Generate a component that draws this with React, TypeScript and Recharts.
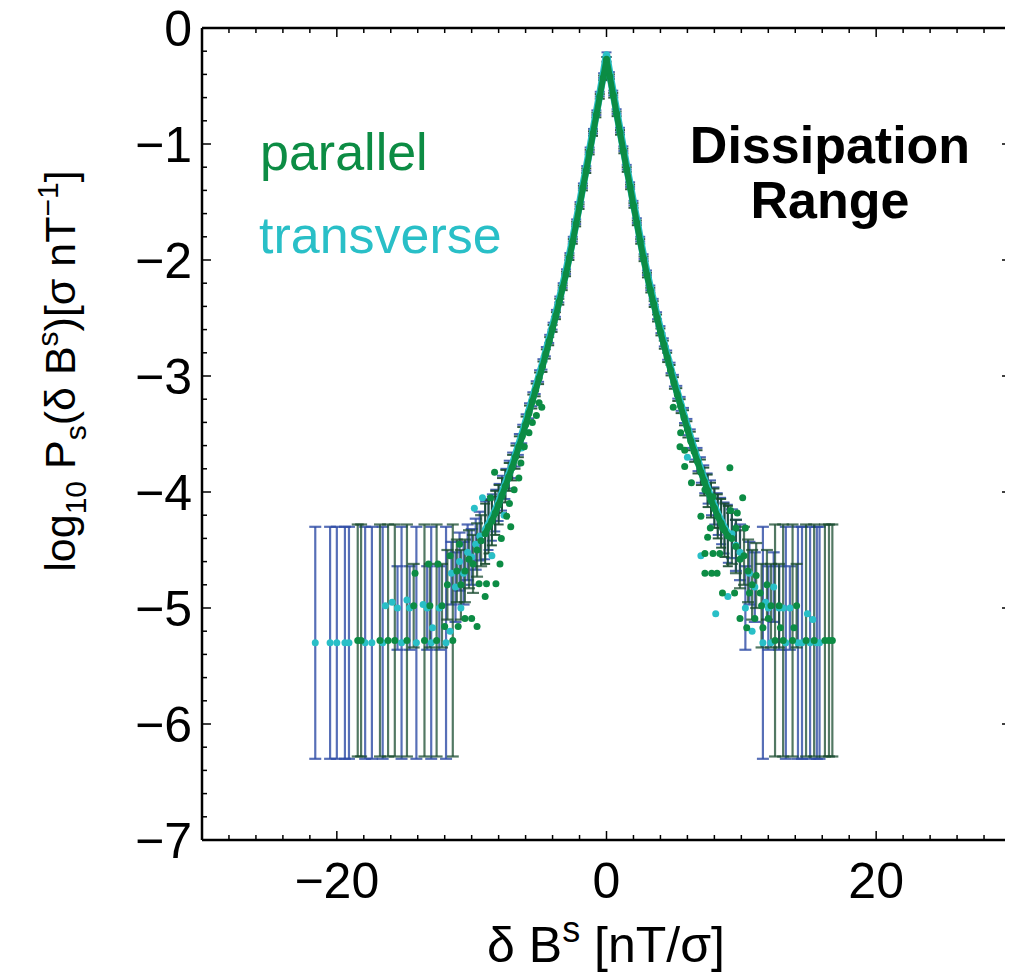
import React from "react";
import { ComposedChart, Scatter, ErrorBar, XAxis, YAxis } from "recharts";

const FONT = "'Liberation Sans', Arial, Helvetica, sans-serif";
const GREEN = "#0c8c44";
const CYAN = "#29bfc7";
const DARK_GREEN = "#184b2f";
const BLUE = "#2d4ba5";

// shared bin centres for the core of both PDFs
const coreX = [
  -9, -8.75, -8.5, -8.25, -8, -7.75, -7.5, -7.25, -7, -6.75, -6.5, -6.25, -6, -5.75, -5.5, -5.25,
  -5, -4.75, -4.5, -4.25, -4, -3.75, -3.5, -3.25, -3, -2.75, -2.5, -2.25, -2, -1.75, -1.5, -1.25,
  -1, -0.75, -0.5, -0.25, 0, 0.25, 0.5, 0.75, 1, 1.25, 1.5, 1.75, 2, 2.25, 2.5, 2.75, 3, 3.25,
  3.5, 3.75, 4, 4.25, 4.5, 4.75, 5, 5.25, 5.5, 5.75, 6, 6.25, 6.5, 6.75, 7, 7.25, 7.5, 7.75, 8,
  8.25, 8.5, 8.75, 9,
];

// parallel component
const parCoreY = [
  -4.36, -4.3, -4.25, -4.18, -4.11, -4.03, -3.95, -3.87, -3.79, -3.7, -3.61, -3.52, -3.42, -3.32,
  -3.22, -3.12, -3.02, -2.92, -2.81, -2.7, -2.59, -2.48, -2.36, -2.24, -2.12, -1.98, -1.84, -1.69,
  -1.54, -1.38, -1.23, -1.07, -0.91, -0.75, -0.59, -0.43, -0.27, -0.42, -0.58, -0.74, -0.9, -1.06,
  -1.22, -1.37, -1.53, -1.68, -1.84, -1.99, -2.13, -2.26, -2.38, -2.5, -2.62, -2.73, -2.84, -2.95,
  -3.06, -3.16, -3.26, -3.36, -3.46, -3.56, -3.65, -3.74, -3.83, -3.91, -3.99, -4.07, -4.14, -4.21,
  -4.27, -4.33, -4.38,
];
const parCoreErr = [
  0.26, 0.23, 0.21, 0.19, 0.17, 0.15, 0.14, 0.12, 0.11, 0.1, 0.09, 0.08, 0.07, 0.065, 0.06, 0.055,
  0.05, 0.045, 0.04, 0.035, 0.03, 0.03, 0.025, 0.02, 0.02, 0.02, 0.02, 0.02, 0.02, 0.02, 0.02, 0.02,
  0.02, 0.02, 0.02, 0.02, 0.02, 0.02, 0.02, 0.02, 0.02, 0.02, 0.02, 0.02, 0.02, 0.02, 0.02, 0.02,
  0.02, 0.02, 0.025, 0.03, 0.03, 0.035, 0.04, 0.045, 0.05, 0.055, 0.06, 0.065, 0.07, 0.08, 0.09,
  0.1, 0.11, 0.12, 0.14, 0.15, 0.17, 0.19, 0.21, 0.23, 0.26,
];
const parTailX = [
  -18.45, -18.2, -16.8, -16.2, -15.7, -14.8, -14.3, -13.5, -13.1, -12.6, -12.2, -11.8, -11.4, -11.1,
  -10.8, -10.5, -10.2, -9.9, -9.6, -9.3, 9.3, 9.6, 9.9, 10.2, 10.5, 10.8, 11.1, 11.5, 11.9, 12.2,
  12.5, 12.8, 13.1, 13.8, 14.1, 14.8, 15.4, 16.2, 16.5, 16.75,
];
const parTailY = [
  -5.28, -5.28, -5.28, -5.28, -5.28, -5.28, -4.98, -5.28, -4.98, -5.28, -4.98, -4.8, -5.28, -4.68,
  -4.8, -4.68, -4.58, -4.62, -4.5, -4.42, -4.4, -4.47, -4.58, -4.55, -4.68, -4.8, -4.72, -4.98, -4.8,
  -4.98, -5.28, -4.98, -5.28, -5.28, -4.98, -5.28, -5.28, -5.28, -5.28, -5.28,
];
const parTailErr = [
  1, 1, 1, 1, 1, 1, 0.36, 1, 0.36, 1, 0.36, 0.3, 1, 0.27, 0.3, 0.27, 0.25, 0.25, 0.23, 0.22, 0.22,
  0.23, 0.25, 0.25, 0.27, 0.3, 0.28, 0.36, 0.3, 0.36, 1, 0.36, 1, 1, 0.36, 1, 1, 1, 1, 1,
];
const parSpreadX = [
  -4.8, -5, -5.2, -5.5, -5.75, -6.1, -6.35, -6.5, -6.85, -7.2, -7.4, -7.1, -7.8, -8.3, -8.6, -7.9,
  -8.2, -8.9, -9.45, -9, -10, -10.5, -9.6, -11, -12, -12.5, -13.2, -14.2, -11.6, -10.9, 4.95, 5.5,
  5.45, 5.8, 5.8, 6.3, 7.3, 7.9, 9.15, 10.1, 7, 7.5, 9.2, 9.7, 7.7, 8.6, 9.6, 10.3, 7.3, 7.9, 8.4,
  7.3, 7.8, 8.2, 8.6, 9.5, 10.6, 11.4, 9.9, 11, 12, 10.4, 11.6, 12.9, 13.9,
];
const parSpreadY = [
  -3.27, -3.23, -3.34, -3.4, -3.49, -3.61, -3.75, -3.88, -3.98, -4.1, -4.21, -4.3, -4.4, -3.83, -4.05,
  -4.62, -4.79, -4.79, -4.79, -4.9, -5.09, -5.09, -5.16, -5.16, -5.16, -4.62, -4.62, -4.7, -4.55,
  -4.45, -3.27, -3.49, -3.61, -3.64, -3.78, -3.92, -3.98, -4.04, -3.79, -4.05, -4.21, -4.39, -4.16,
  -4.18, -4.31, -4.31, -4.31, -4.31, -4.53, -4.53, -4.53, -4.7, -4.7, -4.7, -4.87, -4.87, -4.87,
  -4.87, -5.09, -5.09, -5.09, -5.17, -5.17, -5.17, -5.17,
];

// transverse component
const trnCoreY = [
  -4.33, -4.28, -4.22, -4.16, -4.09, -4.01, -3.93, -3.85, -3.77, -3.68, -3.59, -3.5, -3.4, -3.3,
  -3.2, -3.1, -3, -2.9, -2.79, -2.68, -2.57, -2.46, -2.34, -2.22, -2.1, -1.96, -1.82, -1.67, -1.52,
  -1.36, -1.21, -1.05, -0.89, -0.73, -0.57, -0.41, -0.23, -0.4, -0.56, -0.72, -0.88, -1.04, -1.2,
  -1.35, -1.51, -1.66, -1.82, -1.97, -2.11, -2.24, -2.36, -2.48, -2.6, -2.71, -2.82, -2.93, -3.04,
  -3.14, -3.24, -3.34, -3.44, -3.54, -3.63, -3.72, -3.81, -3.89, -3.97, -4.05, -4.12, -4.19, -4.25,
  -4.31, -4.36,
];
const trnCoreErr = [
  0.25, 0.22, 0.2, 0.18, 0.16, 0.15, 0.13, 0.12, 0.11, 0.1, 0.09, 0.08, 0.07, 0.065, 0.06, 0.055,
  0.05, 0.045, 0.04, 0.035, 0.03, 0.03, 0.025, 0.02, 0.02, 0.02, 0.02, 0.02, 0.02, 0.02, 0.02, 0.02,
  0.02, 0.02, 0.02, 0.02, 0.02, 0.02, 0.02, 0.02, 0.02, 0.02, 0.02, 0.02, 0.02, 0.02, 0.02, 0.02,
  0.02, 0.02, 0.025, 0.03, 0.03, 0.035, 0.04, 0.045, 0.05, 0.055, 0.06, 0.065, 0.07, 0.08, 0.09,
  0.1, 0.11, 0.12, 0.13, 0.15, 0.16, 0.18, 0.2, 0.22, 0.25,
];
const trnTailX = [
  -21.6, -20.5, -20, -19.4, -19.1, -17.9, -17.4, -16.6, -15.5, -15.2, -14.6, -14.1, -13.3, -13,
  -12.4, -11.9, -11.5, -11.2, -10.9, -10.6, -10.3, -10, -9.7, -9.4, 9.3, 9.6, 9.9, 10.3, 10.6, 11,
  11.6, 12, 12.4, 12.8, 13.3, 13.6, 14.2, 14.5, 15.1, 15.6, 15.8,
];
const trnTailY = [
  -5.3, -5.3, -5.3, -5.3, -5.3, -5.3, -5.3, -5.3, -5, -5.3, -5, -5.3, -5, -5.3, -5, -5.3, -4.7, -4.82,
  -4.6, -4.7, -4.52, -4.56, -4.45, -4.38, -4.36, -4.46, -4.52, -5, -4.7, -4.82, -5.3, -5, -4.82, -5,
  -5.3, -5, -5.3, -5.3, -5.3, -5.3, -5.3,
];
const trnTailErr = [
  1, 1, 1, 1, 1, 1, 1, 1, 0.36, 1, 0.36, 1, 0.36, 1, 0.36, 1, 0.27, 0.3, 0.25, 0.27, 0.24, 0.24,
  0.22, 0.21, 0.21, 0.22, 0.24, 0.36, 0.27, 0.3, 1, 0.36, 0.3, 0.36, 1, 0.36, 1, 1, 1, 1, 1,
];
const trnSpreadX = [
  -9.8, -9.2, -16.4, -15.9, -14.8, -13.6, -12.9, -11.6, -10.8, -8.5, -7.6, -6.3, 7, 6, 8.1, 9, 10.8,
  11.8, 13.1, 14.9, 15.3, 12.2,
];
const trnSpreadY = [
  -4.14, -4.05, -4.98, -4.95, -4.93, -4.97, -5.17, -5.2, -5, -4.55, -4.2, -3.62, -4.55, -3.7, -5.05,
  -4.9, -5.2, -4.95, -5, -5.05, -5.1, -5.3,
];

// axis ticks
const xMajor = [-20, 0, 20];
const xTicks = [
  -30, -28, -26, -24, -22, -20, -18, -16, -14, -12, -10, -8, -6, -4, -2, 0, 2, 4, 6, 8, 10, 12, 14,
  16, 18, 20, 22, 24, 26, 28, 30,
];
const yTicks = [
  -7, -6.8, -6.6, -6.4, -6.2, -6, -5.8, -5.6, -5.4, -5.2, -5, -4.8, -4.6, -4.4, -4.2, -4, -3.8, -3.6,
  -3.4, -3.2, -3, -2.8, -2.6, -2.4, -2.2, -2, -1.8, -1.6, -1.4, -1.2, -1, -0.8, -0.6, -0.4, -0.2, 0,
];

const zip = (xs: number[], ys: number[], es?: number[]) =>
  xs.map((x, i) => ({ x, y: ys[i], err: es ? es[i] : 0 }));

const parCore = zip(coreX, parCoreY, parCoreErr);
const parTail = zip(parTailX, parTailY, parTailErr);
const parSpread = zip(parSpreadX, parSpreadY);
const trnCore = zip(coreX, trnCoreY, trnCoreErr);
const trnTail = zip(trnTailX, trnTailY, trnTailErr);
const trnSpread = zip(trnSpreadX, trnSpreadY);

const fmt = (v: number) => (v < 0 ? "\u2212" + Math.abs(v) : String(v));
const isMajorY = (v: number) => Math.abs(v - Math.round(v)) < 1e-6;

const dot = (color: string) => (p: any) =>
  p.cx == null ? <g /> : <circle cx={p.cx} cy={p.cy} r={3.5} fill={color} />;
const none = () => <g />;

const BottomTick = ({ x, y, payload }: any) => {
  const major = xMajor.includes(payload.value);
  return (
    <g>
      <line x1={x} y1={y} x2={x} y2={y - (major ? 9 : 5)} stroke="#000" strokeWidth={1.5} />
      {major && (
        <text x={x} y={y + 58} textAnchor="middle" fontSize={50} fontFamily={FONT} fill="#000">
          {fmt(payload.value)}
        </text>
      )}
    </g>
  );
};
const TopTick = ({ x, y, payload }: any) => {
  const major = xMajor.includes(payload.value);
  return <line x1={x} y1={y} x2={x} y2={y + (major ? 9 : 5)} stroke="#000" strokeWidth={1.5} />;
};
const LeftTick = ({ x, y, payload }: any) => {
  const major = isMajorY(payload.value);
  return (
    <g>
      <line x1={x} y1={y} x2={x + (major ? 9 : 5)} y2={y} stroke="#000" strokeWidth={1.5} />
      {major && (
        <text x={x - 10} y={y + 18} textAnchor="end" fontSize={50} fontFamily={FONT} fill="#000">
          {fmt(Math.round(payload.value))}
        </text>
      )}
    </g>
  );
};
const RightTick = ({ x, y, payload }: any) => {
  const major = isMajorY(payload.value);
  return <line x1={x} y1={y} x2={x - (major ? 9 : 5)} y2={y} stroke="#000" strokeWidth={1.5} />;
};

const axisLine = { stroke: "#000", strokeWidth: 2.5 };

export default function App() {
  return (
    <div style={{ position: "relative", width: 1005, height: 968 }}>
      <ComposedChart width={1005} height={968} margin={{ top: 0, right: 1, bottom: 0, left: 0 }}>
        <XAxis
          dataKey="x"
          type="number"
          domain={[-30, 30]}
          allowDataOverflow
          ticks={xTicks}
          interval={0}
          tick={<BottomTick />}
          tickLine={false}
          tickSize={0}
          tickMargin={0}
          axisLine={axisLine}
          height={136}
        />
        <XAxis
          xAxisId="top"
          orientation="top"
          dataKey="x"
          type="number"
          domain={[-30, 30]}
          allowDataOverflow
          ticks={xTicks}
          interval={0}
          tick={<TopTick />}
          tickLine={false}
          tickSize={0}
          tickMargin={0}
          axisLine={axisLine}
          height={20}
        />
        <YAxis
          dataKey="y"
          type="number"
          domain={[-7, 0]}
          allowDataOverflow
          ticks={yTicks}
          interval={0}
          tick={<LeftTick />}
          tickLine={false}
          tickSize={0}
          tickMargin={0}
          axisLine={axisLine}
          width={194}
        />
        <YAxis
          yAxisId="right"
          orientation="right"
          dataKey="y"
          type="number"
          domain={[-7, 0]}
          allowDataOverflow
          ticks={yTicks}
          interval={0}
          tick={<RightTick />}
          tickLine={false}
          tickSize={0}
          tickMargin={0}
          axisLine={axisLine}
          width={1}
        />

        {/* transverse */}
        <Scatter data={trnCore} shape={none} isAnimationActive={false}>
          <ErrorBar dataKey="err" direction="y" width={5} stroke={BLUE} strokeWidth={2} strokeOpacity={0.85} isAnimationActive={false} />
        </Scatter>
        <Scatter data={trnTail} shape={none} isAnimationActive={false}>
          <ErrorBar dataKey="err" direction="y" width={6} stroke={BLUE} strokeWidth={2.2} strokeOpacity={0.8} isAnimationActive={false} />
        </Scatter>
        <Scatter data={trnCore} shape={dot(CYAN)} line={{ stroke: CYAN, strokeWidth: 7.5 }} isAnimationActive={false} />
        <Scatter data={trnTail} shape={dot(CYAN)} isAnimationActive={false} />
        <Scatter data={trnSpread} shape={dot(CYAN)} isAnimationActive={false} />

        {/* parallel */}
        <Scatter data={parSpread} shape={dot(GREEN)} isAnimationActive={false} />
        <Scatter data={parCore} shape={dot(GREEN)} line={{ stroke: GREEN, strokeWidth: 6 }} isAnimationActive={false} />
        <Scatter data={parTail} shape={dot(GREEN)} isAnimationActive={false} />
        <Scatter data={parCore} shape={none} isAnimationActive={false}>
          <ErrorBar dataKey="err" direction="y" width={5} stroke={DARK_GREEN} strokeWidth={2} strokeOpacity={0.9} isAnimationActive={false} />
        </Scatter>
        <Scatter data={parTail} shape={none} isAnimationActive={false}>
          <ErrorBar dataKey="err" direction="y" width={6} stroke={DARK_GREEN} strokeWidth={2.2} strokeOpacity={0.75} isAnimationActive={false} />
        </Scatter>
      </ComposedChart>

      <svg
        width={1005}
        height={968}
        style={{ position: "absolute", left: 0, top: 0, pointerEvents: "none" }}
        fontFamily={FONT}
      >
        <text x={252} y={162} fontSize={52} fill={GREEN}>parallel</text>
        <text x={251} y={245} fontSize={52} fill={CYAN}>transverse</text>
        <text x={822} y={155} fontSize={52} fontWeight="bold" textAnchor="middle" fill="#000">Dissipation</text>
        <text x={822} y={210} fontSize={52} fontWeight="bold" textAnchor="middle" fill="#000">Range</text>

        <text x={598} y={954} fontSize={50} textAnchor="middle" fill="#000">
          δ B<tspan dy={-20} fontSize={36}>s</tspan>
          <tspan dy={20}> [nT/σ]</tspan>
        </text>

        <text transform="translate(67,363) rotate(-90)" fontSize={43} textAnchor="middle" fill="#000">
          log<tspan dy={11} fontSize={30}>10</tspan>
          <tspan dy={-11}> P</tspan>
          <tspan dy={11} fontSize={30}>s</tspan>
          <tspan dy={-11}>(δ B</tspan>
          <tspan dy={-17} fontSize={30}>s</tspan>
          <tspan dy={17}>)[σ nT</tspan>
          <tspan dy={-17} fontSize={30}>{"\u22121"}</tspan>
          <tspan dy={17}>]</tspan>
        </text>
      </svg>
    </div>
  );
}
